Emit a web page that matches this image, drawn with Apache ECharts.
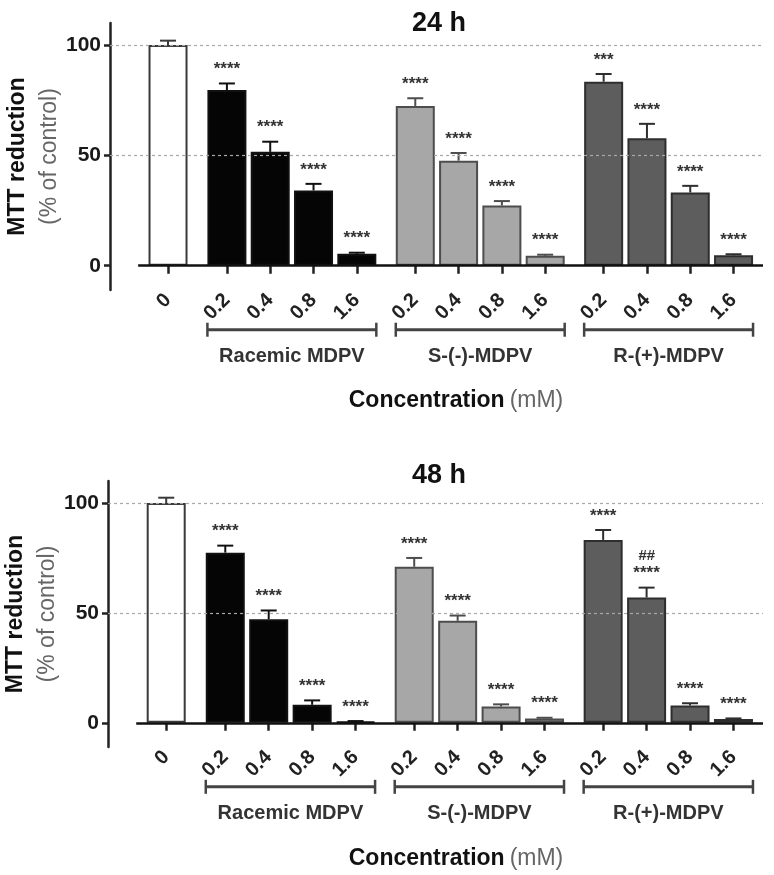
<!DOCTYPE html>
<html>
<head>
<meta charset="utf-8">
<script src="https://cdn.jsdelivr.net/npm/echarts@6/dist/echarts.min.js"></script>
<style>
  html, body { margin: 0; padding: 0; background: #fff; }
  #chart { width: 774px; height: 875px; }
</style>
</head>
<body>
<div id="chart"></div>
<script>
// tick / group labels
const controlLabel = '0';
const doseLabels = ['0.2', '0.4', '0.8', '1.6'];
const groupNames = ['Racemic MDPV', 'S-(-)-MDPV', 'R-(+)-MDPV'];
const panelTitles = ['24 h', '48 h'];

// 24 h
const control24 = [100];
const control24Err = [2];
const racemic24 = [79.6, 51.6, 34.1, 5.4];
const racemic24Err = [3, 4.6, 3, 0.5];
const sMdpv24 = [72.4, 47.6, 27.3, 4.5];
const sMdpv24Err = [3.5, 3.5, 2, 0.5];
const rMdpv24 = [83.4, 57.8, 33.2, 4.7];
const rMdpv24Err = [3.5, 6.5, 3, 0.5];
const stars24 = [
  ['****', '****', '****', '****'],
  ['****', '****', '****', '****'],
  ['***', '****', '****', '****']
];
const hash24 = [['', '', '', ''], ['', '', '', ''], ['', '', '', '']];

// 48 h
const control48 = [100];
const control48Err = [2.4];
const racemic48 = [77.4, 47.1, 8.2, 0.5];
const racemic48Err = [3.2, 4, 2, 0.3];
const sMdpv48 = [71, 46.4, 7.4, 2];
const sMdpv48Err = [4, 2.4, 1, 0.3];
const rMdpv48 = [83.2, 57, 7.9, 1.7];
const rMdpv48Err = [4.5, 4.5, 1, 0.3];
const stars48 = [
  ['****', '****', '****', '****'],
  ['****', '****', '****', '****'],
  ['****', '****', '****', '****']
];
const hash48 = [['', '', '', ''], ['', '', '', ''], ['', '##', '', '']];

// layout
const FONT = '"Liberation Sans", Arial, Helvetica, sans-serif';
const groupStart = 1.36;
const groupStep = 4.35;
const xMin = -1.34, xMax = 13.74, baseStart = -0.69;
const barW = 39;
const fills = ['#ffffff', '#050505', '#a7a7a7', '#5d5d5d'];
const borders = ['#3a3a3a', '#111111', '#4d4d4d', '#2e2e2e'];
const grids = [
  { left: 110, right: 11, top: 23, height: 267, outerBoundsMode: 'none' },
  { left: 108, right: 11, top: 481, height: 266, outerBoundsMode: 'none' }
];

const posOf = (g, i) => (g < 0 ? 0 : groupStart + g * groupStep + i);

const tickPos = [posOf(-1, 0)];
const tickText = [controlLabel];
groupNames.forEach((_, g) => doseLabels.forEach((d, i) => {
  tickPos.push(posOf(g, i));
  tickText.push(d);
}));
const labelFor = v => {
  const k = tickPos.findIndex(p => Math.abs(p - v) < 0.01);
  return k >= 0 ? tickText[k] : '';
};

function buildPanel(p, control, controlErr, groups) {
  const bars = [];
  const errs = [];
  bars.push({ value: [posOf(-1, 0), control[0]], itemStyle: { color: fills[0], borderColor: borders[0] } });
  errs.push({ x: posOf(-1, 0), m: control[0], e: controlErr[0], sig: '', extra: '', c: borders[0] });
  groups.forEach((gr, g) => {
    gr.vals.forEach((v, i) => {
      bars.push({ value: [posOf(g, i), v], itemStyle: { color: fills[g + 1], borderColor: borders[g + 1] } });
      errs.push({ x: posOf(g, i), m: v, e: gr.errs[i], sig: gr.sig[i], extra: gr.extra[i], c: borders[g + 1] });
    });
  });

  const series = [];
  // dotted grid lines, behind the bars
  series.push({
    type: 'line', xAxisIndex: p, yAxisIndex: p, z: 1,
    data: bars.map(b => b.value), showSymbol: false, silent: true,
    lineStyle: { opacity: 0 },
    markLine: {
      silent: true, symbol: 'none', label: { show: false }, animation: false,
      lineStyle: { color: '#a8a8a8', width: 1.2, type: [3, 3] },
      data: [{ yAxis: 50 }, { yAxis: 100 }]
    }
  });
  series.push({
    type: 'bar', xAxisIndex: p, yAxisIndex: p, z: 2,
    barWidth: barW, data: bars,
    itemStyle: { borderWidth: 2 },
    markLine: {
      silent: true, symbol: 'none', label: { show: false }, animation: false,
      lineStyle: { color: '#111', width: 2.5, type: 'solid' },
      data: [[{ coord: [baseStart, 0] }, { coord: [xMax, 0] }]]
    }
  });
  // error bars + significance marks
  series.push({
    type: 'custom', xAxisIndex: p, yAxisIndex: p, z: 3,
    data: errs.map(d => [d.x, d.m, d.e]),
    renderItem: (params, api) => {
      const d = errs[params.dataIndex];
      const base = api.coord([d.x, d.m]);
      const top = api.coord([d.x, d.m + d.e]);
      const kids = [
        { type: 'line', shape: { x1: base[0], y1: base[1], x2: top[0], y2: top[1] }, style: { stroke: d.c, lineWidth: 2 } },
        { type: 'line', shape: { x1: top[0] - 8, y1: top[1], x2: top[0] + 8, y2: top[1] }, style: { stroke: d.c, lineWidth: 2 } }
      ];
      if (d.sig) kids.push({ type: 'text', x: top[0], y: top[1] - 14, style: { text: d.sig, font: 'bold 17px ' + FONT, fill: '#333', align: 'center', verticalAlign: 'middle' } });
      if (d.extra) kids.push({ type: 'text', x: top[0], y: top[1] - 32, style: { text: d.extra, font: 'italic bold 15px ' + FONT, fill: '#333', align: 'center', verticalAlign: 'middle' } });
      return { type: 'group', children: kids };
    }
  });
  // group brackets under the axis
  series.push({
    type: 'custom', xAxisIndex: p, yAxisIndex: p, z: 3, clip: false,
    data: groupNames.map((n, g) => [posOf(g, 0), posOf(g, 3), 0]),
    renderItem: (params, api) => {
      const a = api.coord([api.value(0), 0]);
      const b = api.coord([api.value(1), 0]);
      const x0 = a[0] - barW / 2, x1 = b[0] + barW / 2, y = a[1] + 64;
      const st = { stroke: '#444', lineWidth: 3 };
      return {
        type: 'group', children: [
          { type: 'line', shape: { x1: x0, y1: y, x2: x1, y2: y }, style: st },
          { type: 'line', shape: { x1: x0, y1: y - 7, x2: x0, y2: y + 7 }, style: { stroke: '#444', lineWidth: 2.5 } },
          { type: 'line', shape: { x1: x1, y1: y - 7, x2: x1, y2: y + 7 }, style: { stroke: '#444', lineWidth: 2.5 } },
          { type: 'text', x: (x0 + x1) / 2, y: y + 27, style: { text: groupNames[params.dataIndex], font: 'bold 20px ' + FONT, fill: '#333', align: 'center', verticalAlign: 'middle' } }
        ]
      };
    }
  });
  return series;
}

const mk = (vals, errs, sig, extra) => ({ vals, errs, sig, extra });
const series = [].concat(
  buildPanel(0, control24, control24Err, [
    mk(racemic24, racemic24Err, stars24[0], hash24[0]),
    mk(sMdpv24, sMdpv24Err, stars24[1], hash24[1]),
    mk(rMdpv24, rMdpv24Err, stars24[2], hash24[2])
  ]),
  buildPanel(1, control48, control48Err, [
    mk(racemic48, racemic48Err, stars48[0], hash48[0]),
    mk(sMdpv48, sMdpv48Err, stars48[1], hash48[1]),
    mk(rMdpv48, rMdpv48Err, stars48[2], hash48[2])
  ])
);

const xAxes = grids.map((g, i) => ({
  type: 'value', gridIndex: i, min: xMin, max: xMax,
  axisLine: { show: false }, splitLine: { show: false },
  axisTick: { show: true, customValues: tickPos, length: 8, lineStyle: { color: '#222', width: 2.5 } },
  axisLabel: {
    customValues: tickPos, rotate: 45, margin: 7, formatter: labelFor,
    fontSize: 20, fontWeight: 'bold', color: '#222', fontFamily: FONT
  }
}));

const yAxes = grids.map((g, i) => ({
  type: 'value', gridIndex: i, min: -11, max: 110,
  name: '{b|MTT reduction}\n{n|(% of control)}',
  nameLocation: 'middle', nameRotate: 90, nameGap: 44, nameMoveOverlap: false,
  nameTextStyle: {
    rich: {
      b: { fontSize: 23, fontWeight: 'bold', color: '#111', fontFamily: FONT, lineHeight: 32 },
      n: { fontSize: 23, fontWeight: 'normal', color: '#666', fontFamily: FONT, lineHeight: 32 }
    }
  },
  axisLine: { show: true, onZero: false, lineStyle: { color: '#222', width: 2.5 } },
  splitLine: { show: false },
  axisTick: { show: true, customValues: [0, 50, 100], length: 6, lineStyle: { color: '#222', width: 2.5 } },
  axisLabel: {
    customValues: [0, 50, 100], margin: 9,
    fontSize: 21, fontWeight: 'bold', color: '#1a1a1a', fontFamily: FONT
  }
}));

const concStyle = {
  rich: {
    b: { fontSize: 23, fontWeight: 'bold', color: '#111', fontFamily: FONT },
    n: { fontSize: 23, fontWeight: 'normal', color: '#666', fontFamily: FONT }
  }
};
const titles = [
  { text: panelTitles[0], left: 434, top: 5, textAlign: 'center', textStyle: { fontSize: 27, fontWeight: 'bold', color: '#111', fontFamily: FONT } },
  { text: panelTitles[1], left: 434, top: 457, textAlign: 'center', textStyle: { fontSize: 27, fontWeight: 'bold', color: '#111', fontFamily: FONT } },
  { text: '{b|Concentration} {n|(mM)}', left: 451, top: 384, textAlign: 'center', textStyle: concStyle },
  { text: '{b|Concentration} {n|(mM)}', left: 451, top: 842, textAlign: 'center', textStyle: concStyle }
];

const chart = echarts.init(document.getElementById('chart'), null, { renderer: 'canvas' });
chart.setOption({
  animation: false,
  backgroundColor: '#fff',
  title: titles,
  grid: grids,
  xAxis: xAxes,
  yAxis: yAxes,
  series: series
});
</script>
</body>
</html>
